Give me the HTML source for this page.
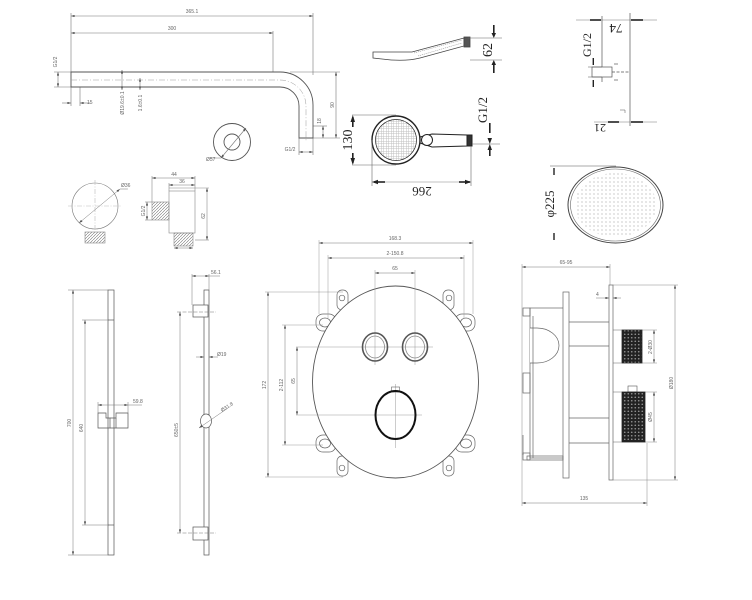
<!DOCTYPE html>
<html><head><meta charset="utf-8"><style>
html,body{margin:0;padding:0;background:#fff}
svg{display:block}
.t{font-family:"Liberation Sans",sans-serif;font-size:5px;fill:#666}
.b{font-family:"Liberation Serif",serif;fill:#222}
</style></head><body>
<svg width="752" height="600" viewBox="0 0 752 600" xmlns="http://www.w3.org/2000/svg">
<defs>
<marker id="ar" viewBox="0 0 6 4" refX="6" refY="2" markerWidth="4" markerHeight="2.4" markerUnits="userSpaceOnUse" orient="auto-start-reverse"><path d="M0,0L6,2L0,4z" fill="#555"/></marker>
<pattern id="kn" width="3.5" height="3.5" patternUnits="userSpaceOnUse"><rect width="3.5" height="3.5" fill="#222"/><circle cx="1.75" cy="1.75" r="0.8" fill="#999"/></pattern>
<pattern id="hs" width="2.5" height="2.5" patternUnits="userSpaceOnUse"><rect width="2.5" height="2.5" fill="#fff"/><path d="M0,1.25H2.5M1.25,0V2.5" stroke="#bbb" stroke-width="0.45"/></pattern>
<pattern id="dots" width="4" height="4" patternUnits="userSpaceOnUse"><circle cx="2" cy="2" r="0.55" fill="#888"/></pattern>
<pattern id="thr" width="3" height="3" patternUnits="userSpaceOnUse"><path d="M0,3L3,0" stroke="#777" stroke-width="0.6"/></pattern>
</defs>

<!-- ================= SHOWER ARM ================= -->
<g stroke="#777" stroke-width="0.6" fill="none">
  <line x1="71" y1="16" x2="313" y2="16" marker-start="url(#ar)" marker-end="url(#ar)"/>
  <line x1="71" y1="33" x2="273" y2="33" marker-start="url(#ar)" marker-end="url(#ar)"/>
  <line x1="71" y1="13" x2="71" y2="72"/>
  <line x1="71" y1="87" x2="71" y2="106"/>
  <line x1="273" y1="31" x2="273" y2="72"/>
  <line x1="313" y1="13" x2="313" y2="75"/>
  <line x1="54" y1="72" x2="71" y2="72"/>
  <line x1="54" y1="87" x2="71" y2="87"/>
  <line x1="58" y1="72" x2="58" y2="87" marker-start="url(#ar)" marker-end="url(#ar)"/>
  <line x1="62" y1="103" x2="71" y2="103" marker-end="url(#ar)"/>
  <line x1="90" y1="103" x2="80" y2="103" marker-end="url(#ar)"/>
  <line x1="80" y1="87" x2="80" y2="106"/>
  <line x1="122" y1="70" x2="122" y2="90" marker-start="url(#ar)" marker-end="url(#ar)"/>
  <line x1="140" y1="78" x2="140" y2="90" marker-start="url(#ar)" marker-end="url(#ar)"/>
  <line x1="290" y1="72" x2="340" y2="72"/>
  <line x1="313" y1="138" x2="340" y2="138"/>
  <line x1="336" y1="72" x2="336" y2="138" marker-start="url(#ar)" marker-end="url(#ar)"/>
  <line x1="313" y1="126" x2="327" y2="126"/>
  <line x1="323" y1="126" x2="323" y2="138" marker-start="url(#ar)" marker-end="url(#ar)"/>
  <line x1="299" y1="138" x2="299" y2="155"/>
  <line x1="313" y1="138" x2="313" y2="155"/>
  <line x1="299" y1="152" x2="313" y2="152" marker-start="url(#ar)" marker-end="url(#ar)"/>
</g>
<g stroke="#555" stroke-width="0.9" fill="none">
  <path d="M71,72 H280 A33,33 0 0 1 313,105 V138 H299 V106 A19,19 0 0 0 280,87 H71 Z"/>
  <path d="M71,80 H280 A26,26 0 0 1 306,106 V142" stroke="#999" stroke-width="0.5" stroke-dasharray="6 2 1 2"/>
  <circle cx="232" cy="142" r="18.5"/>
  <circle cx="232" cy="142" r="8"/>
</g>
<line x1="221" y1="158" x2="246" y2="128" stroke="#777" stroke-width="0.6" marker-start="url(#ar)" marker-end="url(#ar)"/>
<line x1="221" y1="158" x2="210" y2="158" stroke="#777" stroke-width="0.5"/>
<text class="t" x="192" y="13" text-anchor="middle">365.1</text>
<text class="t" x="172" y="30" text-anchor="middle">300</text>
<text class="t" transform="translate(57,62) rotate(-90)" text-anchor="middle">G1/2</text>
<text class="t" x="87" y="104">15</text>
<text class="t" transform="translate(124,103) rotate(-90)" text-anchor="middle">Ø19.6±0.1</text>
<text class="t" transform="translate(142,103) rotate(-90)" text-anchor="middle">1.6±0.1</text>
<text class="t" transform="translate(334,105) rotate(-90)" text-anchor="middle">90</text>
<text class="t" transform="translate(321,121) rotate(-90)" text-anchor="middle">18</text>
<text class="t" x="290" y="151" text-anchor="middle">G1/2</text>
<text class="t" x="206" y="161">Ø57</text>

<!-- ================= HAND SHOWER ================= -->
<g stroke="#444" stroke-width="0.8" fill="none">
  <path d="M373,52 L412,52 L464,38 L464,46 L420,58 Q404,62 382,59 L373,58 Z"/>
  <path d="M414,53 L462,40 M418,56 L462,43" stroke="#888" stroke-width="0.5" stroke-dasharray="1.2 0.8"/>
  <rect x="464" y="37" width="6" height="10" fill="#555"/>
</g>
<g stroke="#222" stroke-width="1" fill="none">
  <path d="M420,137 L432,134 L467,135 L467,146 L432,147 L420,143"/>
  <circle cx="396" cy="140" r="24" fill="#fff" stroke-width="1.4"/>
  <circle cx="396" cy="140" r="20.5" fill="url(#hs)" stroke-width="0.7"/>
  <circle cx="427" cy="140" r="5.5" fill="#fff"/>
  <rect x="467" y="135" width="5" height="11" fill="#333"/>
</g>
<g stroke="#666" stroke-width="0.6">
  <line x1="468" y1="38" x2="502" y2="38"/>
  <line x1="470" y1="60" x2="502" y2="60"/>
  <line x1="352" y1="115" x2="396" y2="115"/>
  <line x1="352" y1="165" x2="396" y2="165"/>
  <line x1="372" y1="140" x2="372" y2="186"/>
  <line x1="471" y1="146" x2="471" y2="186"/>
  <line x1="472" y1="144" x2="500" y2="144"/>
  <line x1="372" y1="182" x2="471" y2="182" stroke-width="0.4"/>
</g>
<g fill="#222">
  <rect x="493" y="25" width="1.6" height="9"/><path d="M491.5,33 L496,33 L493.8,38z"/>
  <rect x="493" y="64" width="1.6" height="9"/><path d="M491.5,65 L496,65 L493.8,60z"/>
  <rect x="352" y="117" width="1.6" height="10"/><path d="M350.5,122 L355,122 L352.8,115z"/>
  <rect x="352" y="153" width="1.6" height="10"/><path d="M350.5,158 L355,158 L352.8,165z"/>
  <rect x="374" y="181.2" width="11" height="1.6"/><path d="M378,179.8 L378,184.2 L372,182z"/>
  <rect x="459" y="181.2" width="11" height="1.6"/><path d="M465,179.8 L465,184.2 L471,182z"/>
  <rect x="489" y="123" width="1.6" height="10"/><path d="M487.5,138 L492,138 L489.8,144z"/>
  <rect x="489" y="148" width="1.6" height="8"/><path d="M487.5,150 L492,150 L489.8,144z"/>
</g>
<text class="b" font-size="14" transform="translate(492,50) rotate(-90)" text-anchor="middle">62</text>
<text class="b" font-size="14" transform="translate(352,140) rotate(-90)" text-anchor="middle">130</text>
<text class="b" font-size="13" transform="translate(422,187) rotate(180)" text-anchor="middle">266</text>
<text class="b" font-size="13" transform="translate(487,110) rotate(-90)" text-anchor="middle">G1/2</text>

<!-- ================= OVERHEAD SIDE ================= -->
<g stroke="#555" stroke-width="0.7" fill="none">
  <line x1="630" y1="13" x2="630" y2="126"/>
  <line x1="602" y1="16" x2="602" y2="67"/>
  <line x1="602" y1="77" x2="602" y2="82"/>
  <rect x="592" y="67" width="20" height="10"/>
  <line x1="612" y1="72" x2="630" y2="72" stroke-dasharray="3 1.5"/>
  <line x1="614" y1="64" x2="618" y2="64"/>
  <line x1="614" y1="80" x2="618" y2="80"/>
  <line x1="576" y1="20" x2="657" y2="20" stroke="#777" stroke-width="0.5"/>
  <line x1="594" y1="122" x2="657" y2="122" stroke="#777" stroke-width="0.5"/>
  <path d="M620,110 L625,110 L625,113" stroke-width="0.5"/>
  <line x1="588" y1="67" x2="602" y2="67" stroke-width="0.5"/>
  <line x1="588" y1="77" x2="602" y2="77" stroke-width="0.5"/>
  <line x1="550" y1="166" x2="616" y2="166" stroke-width="0.5"/>
</g>
<g fill="#222">
  <rect x="590" y="19.2" width="11" height="1.6"/>
  <rect x="631" y="19.2" width="12" height="1.6"/>
  <rect x="608" y="121.2" width="11" height="1.6"/>
  <rect x="631" y="121.2" width="12" height="1.6"/>
  <rect x="592.6" y="58" width="1.4" height="7"/>
  <rect x="592.6" y="80" width="1.4" height="7"/>
  <rect x="553.3" y="168" width="1.4" height="7"/>
  <rect x="553.3" y="233" width="1.4" height="7"/>
</g>
<text class="b" font-size="13" transform="translate(616,24) rotate(180)" text-anchor="middle">74</text>
<text class="b" font-size="12" transform="translate(600,124) rotate(180)" text-anchor="middle">21</text>
<text class="b" font-size="12" transform="translate(591,45) rotate(-90)" text-anchor="middle">G1/2</text>
<text class="b" font-size="13" transform="translate(554,204) rotate(-90)" text-anchor="middle">φ225</text>

<!-- ================= OVERHEAD HEAD ================= -->
<ellipse cx="615.5" cy="205" rx="47.5" ry="38" fill="#fff" stroke="#444" stroke-width="1"/>
<ellipse cx="615.5" cy="205" rx="45" ry="36" fill="none" stroke="#666" stroke-width="0.6"/>
<ellipse cx="615.5" cy="205" rx="41" ry="32" fill="url(#dots)"/>

<!-- ================= WALL OUTLET ================= -->
<g stroke="#888" stroke-width="0.6" fill="none">
  <circle cx="95" cy="206" r="23" stroke="#777"/>
  <line x1="68" y1="206" x2="122" y2="206" stroke-dasharray="5 1.5 1 1.5" stroke="#bbb"/>
  <line x1="95" y1="180" x2="95" y2="232" stroke-dasharray="5 1.5 1 1.5" stroke="#bbb"/>
  <rect x="85" y="232" width="20" height="11" fill="url(#thr)"/>
  <line x1="120" y1="189" x2="128" y2="189"/>
  <rect x="169" y="191" width="26" height="42"/>
  <rect x="152" y="202" width="17" height="18" fill="url(#thr)"/>
  <rect x="174" y="233" width="19" height="13" fill="url(#thr)"/>
  <line x1="152" y1="176" x2="152" y2="202"/>
  <line x1="195" y1="176" x2="195" y2="191"/>
  <line x1="169" y1="183" x2="169" y2="191"/>
  <line x1="169" y1="188" x2="209" y2="188"/>
  <line x1="195" y1="240" x2="209" y2="240"/>
  <line x1="145" y1="202" x2="152" y2="202"/>
  <line x1="145" y1="220" x2="152" y2="220"/>
</g>
<g stroke="#777" stroke-width="0.5" fill="none">
  <line x1="79" y1="223" x2="120" y2="189" marker-start="url(#ar)" marker-end="url(#ar)"/>
  <line x1="152" y1="178" x2="195" y2="178" marker-start="url(#ar)" marker-end="url(#ar)"/>
  <line x1="169" y1="185" x2="195" y2="185" marker-start="url(#ar)" marker-end="url(#ar)"/>
  <line x1="207" y1="188" x2="207" y2="240" marker-start="url(#ar)" marker-end="url(#ar)"/>
  <line x1="147" y1="202" x2="147" y2="220" marker-start="url(#ar)" marker-end="url(#ar)"/>
  <line x1="174" y1="248" x2="193" y2="248" marker-start="url(#ar)" marker-end="url(#ar)"/>
</g>
<text class="t" x="121" y="187" font-size="4">Ø36</text>
<text class="t" x="174" y="176" font-size="4" text-anchor="middle">44</text>
<text class="t" x="182" y="183" font-size="4" text-anchor="middle">36</text>
<text class="t" transform="translate(205,216) rotate(-90)" font-size="4" text-anchor="middle">62</text>
<text class="t" transform="translate(145,211) rotate(-90)" font-size="4" text-anchor="middle">G1/2</text>

<!-- ================= SLIDE RAIL LEFT ================= -->
<g stroke="#555" stroke-width="0.7" fill="none">
  <rect x="108" y="290" width="6" height="265"/>
  <line x1="108" y1="320" x2="114" y2="320"/>
  <line x1="108" y1="525" x2="114" y2="525"/>
  <path d="M98,413 H106 V418 H110 V428 H98 Z"/>
  <path d="M110,418 H116 V413 H128 V428 H110"/>
  <line x1="116" y1="418" x2="116" y2="428"/>
</g>
<g stroke="#777" stroke-width="0.5" fill="none">
  <line x1="68" y1="290" x2="108" y2="290"/>
  <line x1="68" y1="555" x2="108" y2="555"/>
  <line x1="73" y1="290" x2="73" y2="555" marker-start="url(#ar)" marker-end="url(#ar)"/>
  <line x1="82" y1="320" x2="108" y2="320"/>
  <line x1="82" y1="525" x2="108" y2="525"/>
  <line x1="85" y1="320" x2="85" y2="525" marker-start="url(#ar)" marker-end="url(#ar)"/>
  <line x1="98" y1="402" x2="98" y2="413"/>
  <line x1="128" y1="402" x2="128" y2="413"/>
  <line x1="98" y1="405" x2="128" y2="405" marker-start="url(#ar)" marker-end="url(#ar)"/>
  <line x1="128" y1="405" x2="142" y2="405"/>
</g>
<text class="t" transform="translate(71,423) rotate(-90)" text-anchor="middle">700</text>
<text class="t" transform="translate(83,428) rotate(-90)" text-anchor="middle">640</text>
<text class="t" x="133" y="403">59.8</text>

<!-- ================= SLIDE RAIL RIGHT ================= -->
<g stroke="#555" stroke-width="0.7" fill="none">
  <rect x="204" y="290" width="5" height="265"/>
  <rect x="193" y="305" width="15" height="12" fill="#fff"/>
  <rect x="193" y="527" width="15" height="13" fill="#fff"/>
  <ellipse cx="206" cy="421" rx="5.5" ry="7" fill="#fff"/>
</g>
<g stroke="#777" stroke-width="0.5" fill="none">
  <line x1="192" y1="274" x2="192" y2="305"/>
  <line x1="209" y1="274" x2="209" y2="290"/>
  <line x1="192" y1="276" x2="209" y2="276" marker-start="url(#ar)" marker-end="url(#ar)"/>
  <line x1="209" y1="276" x2="220" y2="276"/>
  <line x1="177" y1="312" x2="216" y2="312" stroke-dasharray="4 1.5"/>
  <line x1="177" y1="533" x2="216" y2="533" stroke-dasharray="4 1.5"/>
  <line x1="180" y1="312" x2="180" y2="533" marker-start="url(#ar)" marker-end="url(#ar)"/>
  <line x1="196" y1="357" x2="204" y2="357" marker-end="url(#ar)"/>
  <line x1="218" y1="357" x2="209" y2="357" marker-end="url(#ar)"/>
  <line x1="199" y1="428" x2="228" y2="408" marker-start="url(#ar)"/>
</g>
<text class="t" x="211" y="274">56.1</text>
<text class="t" transform="translate(178,430) rotate(-90)" text-anchor="middle">650±5</text>
<text class="t" x="217" y="356">Ø19</text>
<text class="t" transform="translate(222,412) rotate(-33)">Ø31.8</text>

<!-- ================= VALVE FRONT ================= -->
<g stroke="#666" stroke-width="0.7" fill="#fff">
  <g id="lugs">
    <rect x="337" y="290" width="11" height="20" rx="5"/>
    <circle cx="342" cy="298" r="2.8"/>
    <rect x="316" y="314" width="20" height="17" rx="7"/>
    <ellipse cx="325" cy="322.5" rx="5.5" ry="4.5"/>
  </g>
  <use href="#lugs" transform="translate(791,0) scale(-1,1)"/>
  <use href="#lugs" transform="translate(0,766) scale(1,-1)"/>
  <use href="#lugs" transform="translate(791,766) scale(-1,-1)"/>
  <ellipse cx="395.5" cy="382" rx="83" ry="96" stroke="#555" stroke-width="0.9"/>
</g>
<g stroke="#999" stroke-width="0.5" fill="none">
  <line x1="319" y1="240" x2="319" y2="314"/>
  <line x1="473" y1="240" x2="473" y2="314"/>
  <line x1="328" y1="255" x2="328" y2="318"/>
  <line x1="464" y1="255" x2="464" y2="318"/>
  <line x1="375" y1="270" x2="375" y2="365"/>
  <line x1="415" y1="270" x2="415" y2="365"/>
  <line x1="296" y1="347" x2="433" y2="347"/>
  <line x1="296" y1="415" x2="422" y2="415"/>
  <line x1="395.5" y1="384" x2="395.5" y2="448"/>
  <line x1="265" y1="292" x2="343" y2="292"/>
  <line x1="265" y1="477" x2="343" y2="477"/>
  <line x1="282" y1="325" x2="323" y2="325"/>
  <line x1="282" y1="445" x2="323" y2="445"/>
</g>
<g stroke="#777" stroke-width="0.5" fill="none">
  <line x1="319" y1="243" x2="473" y2="243" marker-start="url(#ar)" marker-end="url(#ar)"/>
  <line x1="328" y1="258" x2="464" y2="258" marker-start="url(#ar)" marker-end="url(#ar)"/>
  <line x1="375" y1="273" x2="415" y2="273" marker-start="url(#ar)" marker-end="url(#ar)"/>
  <line x1="268" y1="292" x2="268" y2="477" marker-start="url(#ar)" marker-end="url(#ar)"/>
  <line x1="285" y1="325" x2="285" y2="445" marker-start="url(#ar)" marker-end="url(#ar)"/>
  <line x1="297" y1="347" x2="297" y2="415" marker-start="url(#ar)" marker-end="url(#ar)"/>
</g>
<g fill="none">
  <ellipse cx="375" cy="347" rx="12.5" ry="14" stroke="#555" stroke-width="1.6"/>
  <ellipse cx="375" cy="347" rx="9.5" ry="11" stroke="#888" stroke-width="0.8"/>
  <ellipse cx="415" cy="347" rx="12.5" ry="14" stroke="#555" stroke-width="1.6"/>
  <ellipse cx="415" cy="347" rx="9.5" ry="11" stroke="#888" stroke-width="0.8"/>
  <rect x="391.5" y="387" width="8" height="5" stroke="#666" stroke-width="0.6"/>
  <ellipse cx="395.5" cy="415" rx="20" ry="24" stroke="#111" stroke-width="2"/>
</g>
<text class="t" x="395" y="240" text-anchor="middle">168.3</text>
<text class="t" x="395" y="255" text-anchor="middle">2-150.8</text>
<text class="t" x="395" y="270" text-anchor="middle">65</text>
<text class="t" transform="translate(266,385) rotate(-90)" text-anchor="middle">172</text>
<text class="t" transform="translate(283,385) rotate(-90)" text-anchor="middle">2-112</text>
<text class="t" transform="translate(295,381) rotate(-90)" text-anchor="middle">65</text>

<!-- ================= VALVE SIDE ================= -->
<g stroke="#888" stroke-width="0.5" fill="none">
  <line x1="522" y1="264" x2="522" y2="506"/>
  <line x1="610" y1="264" x2="610" y2="285"/>
  <line x1="647" y1="443" x2="647" y2="506"/>
  <line x1="613" y1="285" x2="678" y2="285"/>
  <line x1="613" y1="480" x2="678" y2="480"/>
  <line x1="642" y1="330" x2="657" y2="330"/>
  <line x1="642" y1="363" x2="657" y2="363"/>
  <line x1="645" y1="392" x2="657" y2="392"/>
  <line x1="645" y1="442" x2="657" y2="442"/>
</g>
<g stroke="#777" stroke-width="0.5" fill="none">
  <line x1="522" y1="267" x2="610" y2="267" marker-start="url(#ar)" marker-end="url(#ar)"/>
  <line x1="522" y1="503" x2="647" y2="503" marker-start="url(#ar)" marker-end="url(#ar)"/>
  <line x1="675" y1="285" x2="675" y2="480" marker-start="url(#ar)" marker-end="url(#ar)"/>
  <line x1="654" y1="330" x2="654" y2="363" marker-start="url(#ar)" marker-end="url(#ar)"/>
  <line x1="654" y1="392" x2="654" y2="442" marker-start="url(#ar)" marker-end="url(#ar)"/>
  <line x1="596" y1="298" x2="609" y2="298" marker-end="url(#ar)"/>
  <line x1="621" y1="298" x2="613" y2="298" marker-end="url(#ar)"/>
</g>
<g stroke="#666" stroke-width="0.7" fill="none">
  <rect x="609" y="285" width="4" height="195"/>
  <rect x="530" y="308" width="35" height="150"/>
  <rect x="563" y="292" width="6" height="186" fill="#fff"/>
  <line x1="569" y1="322" x2="609" y2="322"/>
  <line x1="569" y1="346" x2="609" y2="346"/>
  <line x1="569" y1="418" x2="609" y2="418"/>
  <line x1="569" y1="443" x2="609" y2="443"/>
  <path d="M530,328 H537 A22,17.5 0 0 1 537,363 H530" fill="#fff"/>
  <rect x="523" y="308" width="7" height="8"/>
  <rect x="523" y="373" width="7" height="20"/>
  <line x1="523" y1="435" x2="523" y2="455"/>
  <rect x="523" y="453" width="7" height="7"/>
  <rect x="527" y="456" width="36" height="4"/>
  <line x1="533" y1="316" x2="533" y2="458"/>
</g>
<rect x="622" y="330" width="20" height="33" fill="url(#kn)" stroke="#222" stroke-width="0.8"/>
<rect x="628" y="386" width="9" height="6" fill="#fff" stroke="#555" stroke-width="0.6"/>
<rect x="622" y="392" width="23" height="50" fill="url(#kn)" stroke="#222" stroke-width="0.8"/>
<line x1="613" y1="330" x2="622" y2="330" stroke="#666" stroke-width="0.5"/>
<line x1="613" y1="363" x2="622" y2="363" stroke="#666" stroke-width="0.5"/>
<line x1="613" y1="392" x2="622" y2="392" stroke="#666" stroke-width="0.5"/>
<line x1="613" y1="442" x2="622" y2="442" stroke="#666" stroke-width="0.5"/>
<text class="t" x="566" y="264" text-anchor="middle">65-95</text>
<text class="t" x="584" y="500" text-anchor="middle">135</text>
<text class="t" x="596" y="296">4</text>
<text class="t" transform="translate(673,383) rotate(-90)" text-anchor="middle">Ø180</text>
<text class="t" transform="translate(652,347) rotate(-90)" text-anchor="middle">2-Ø30</text>
<text class="t" transform="translate(652,417) rotate(-90)" text-anchor="middle">Ø45</text>
</svg>
</body></html>
